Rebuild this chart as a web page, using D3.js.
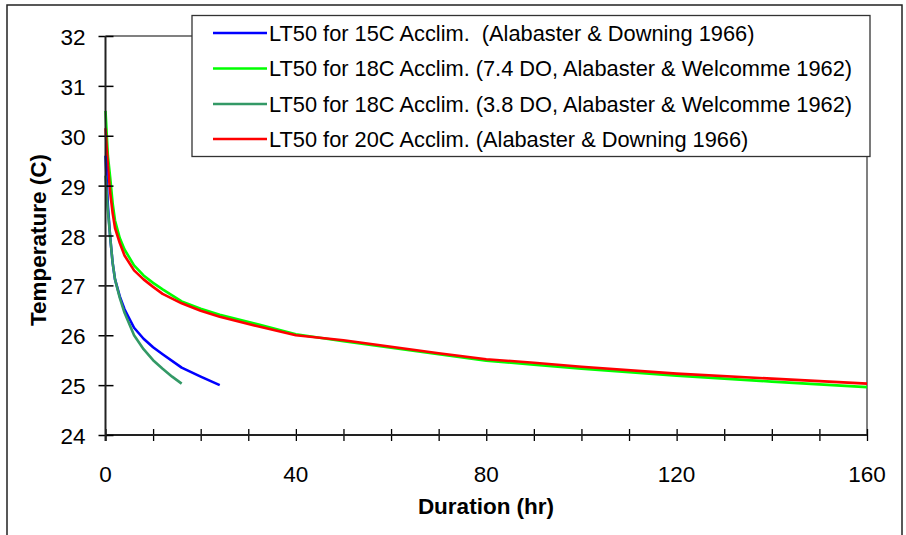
<!DOCTYPE html>
<html><head><meta charset="utf-8">
<script src="https://cdn.jsdelivr.net/npm/d3@7"></script>
<style>body{margin:0;background:#fff}svg text{font-family:Arial,"Liberation Sans",sans-serif;white-space:pre}</style>
</head><body><svg id="c" width="906" height="535"></svg>
<script>
const blueHours  = [0, 0.5, 1, 1.5, 2, 3, 4, 6, 8, 10, 12, 16, 20, 24];
const blueTemps  = [29.6, 28.6, 27.95, 27.45, 27.12, 26.78, 26.52, 26.15, 25.93, 25.76, 25.62, 25.35, 25.17, 25.0];
const green74Hours = [0, 0.5, 1, 1.5, 2, 3, 4, 6, 8, 10, 12, 16, 20, 24, 32, 40, 50, 60, 70, 80, 90, 100, 120, 140, 160];
const green74Temps = [30.5, 29.6, 29.15, 28.65, 28.3, 27.95, 27.72, 27.4, 27.2, 27.05, 26.92, 26.68, 26.53, 26.41, 26.22, 26.02, 25.88, 25.75, 25.62, 25.49, 25.41, 25.33, 25.19, 25.07, 24.96];
const green38Hours = [0, 0.5, 1, 1.5, 2, 3, 4, 6, 8, 10, 12, 14, 16];
const green38Temps = [29.2, 28.5, 27.95, 27.45, 27.12, 26.75, 26.45, 26.0, 25.72, 25.5, 25.33, 25.17, 25.03];
const redHours = [0, 0.5, 1, 1.5, 2, 3, 4, 6, 8, 10, 12, 16, 20, 24, 32, 40, 50, 60, 70, 80, 90, 100, 120, 140, 160];
const redTemps = [30.15, 29.4, 28.85, 28.45, 28.15, 27.85, 27.6, 27.3, 27.12, 26.97, 26.83, 26.64, 26.49, 26.37, 26.18, 26.0, 25.9, 25.77, 25.64, 25.52, 25.45, 25.37, 25.23, 25.13, 25.03];
const seriesNames = [
  "LT50 for 15C Acclim.  (Alabaster & Downing 1966)",
  "LT50 for 18C Acclim. (7.4 DO, Alabaster & Welcomme 1962)",
  "LT50 for 18C Acclim. (3.8 DO, Alabaster & Welcomme 1962)",
  "LT50 for 20C Acclim. (Alabaster & Downing 1966)"
];
const seriesColors = ["#0000ff", "#00ff00", "#339966", "#ff0000"];
const xTickLabels = [0, 40, 80, 120, 160];
const xMinorTicks = d3.range(0, 161, 10);
const yTickLabels = [24, 25, 26, 27, 28, 29, 30, 31, 32];

const series = [
  {name: seriesNames[0], color: seriesColors[0], pts: blueHours.map((h,i)=>[h, blueTemps[i]])},
  {name: seriesNames[1], color: seriesColors[1], pts: green74Hours.map((h,i)=>[h, green74Temps[i]])},
  {name: seriesNames[2], color: seriesColors[2], pts: green38Hours.map((h,i)=>[h, green38Temps[i]])},
  {name: seriesNames[3], color: seriesColors[3], pts: redHours.map((h,i)=>[h, redTemps[i]])}
];

const svg = d3.select("#c");
const L = 105.5, R = 867, T = 36, B = 435;
const x = d3.scaleLinear().domain([0,160]).range([L,R]);
const y = d3.scaleLinear().domain([24,32]).range([B,T]);

// outer frame
svg.append("rect").attr("x",7).attr("y",5).attr("width",895).attr("height",560)
  .attr("fill","none").attr("stroke","#222").attr("stroke-width",1.5);

// plot border (gray top/right)
svg.append("path").attr("d",`M${L},${T}H${R}V${B}`).attr("fill","none").attr("stroke","#808080").attr("stroke-width",2);

// data lines
const line = d3.line().x(d=>x(d[0])).y(d=>y(d[1]));
const plotG = svg.append("g");
[1,3,0,2].forEach(i=>{
  plotG.append("path").datum(series[i].pts).attr("d",line)
    .attr("fill","none").attr("stroke",series[i].color).attr("stroke-width",2.6)
    .attr("stroke-linejoin","round");
});

// axes
const xAxisG = svg.append("g").attr("transform",`translate(0,${B})`)
  .call(d3.axisBottom(x).tickValues(xMinorTicks).tickSize(6).tickFormat(""));
xAxisG.select(".domain").remove();
xAxisG.selectAll(".tick line").attr("y1",-6).attr("y2",6).attr("stroke","#000").attr("stroke-width",1.3);
svg.append("line").attr("x1",L).attr("x2",R).attr("y1",B).attr("y2",B).attr("stroke","#222").attr("stroke-width",2);

const yAxisG = svg.append("g").attr("transform",`translate(${L},0)`)
  .call(d3.axisLeft(y).tickValues(yTickLabels).tickSize(7).tickFormat(""));
yAxisG.select(".domain").remove();
yAxisG.selectAll(".tick line").attr("x1",-7).attr("x2",8).attr("stroke","#000").attr("stroke-width",1.5);
svg.append("line").attr("x1",L).attr("x2",L).attr("y1",T).attr("y2",B+6).attr("stroke","#222").attr("stroke-width",2);

// tick labels
svg.append("g").selectAll("text").data(xTickLabels).join("text")
  .attr("x",d=>x(d)).attr("y",481.5).attr("text-anchor","middle")
  .attr("font-size",22.5).attr("fill","#000").text(d=>d);
svg.append("g").selectAll("text").data(yTickLabels).join("text")
  .attr("x",85.5).attr("y",d=>y(d)+9).attr("text-anchor","end")
  .attr("font-size",22.5).attr("fill","#000").text(d=>d);

// axis titles
svg.append("text").attr("x",486).attr("y",513.5).attr("text-anchor","middle")
  .attr("font-size",22.5).attr("font-weight","bold").text("Duration (hr)");
svg.append("text").attr("transform","translate(46,240) rotate(-90)").attr("text-anchor","middle")
  .attr("font-size",22.5).attr("font-weight","bold").text("Temperature (C)");

// legend
const lg = svg.append("g");
lg.append("rect").attr("x",192).attr("y",15.5).attr("width",678).attr("height",141)
  .attr("fill","#fff").attr("stroke","#333").attr("stroke-width",1.3);
const rowsY = [33, 68.5, 104, 139];
series.forEach((s,i)=>{
  lg.append("line").attr("x1",213).attr("x2",267).attr("y1",rowsY[i]).attr("y2",rowsY[i])
    .attr("stroke",s.color).attr("stroke-width",2.6);
  lg.append("text").attr("x",269).attr("y",rowsY[i]+7.5).attr("font-size",21.8).text(s.name);
});
</script></body></html>
